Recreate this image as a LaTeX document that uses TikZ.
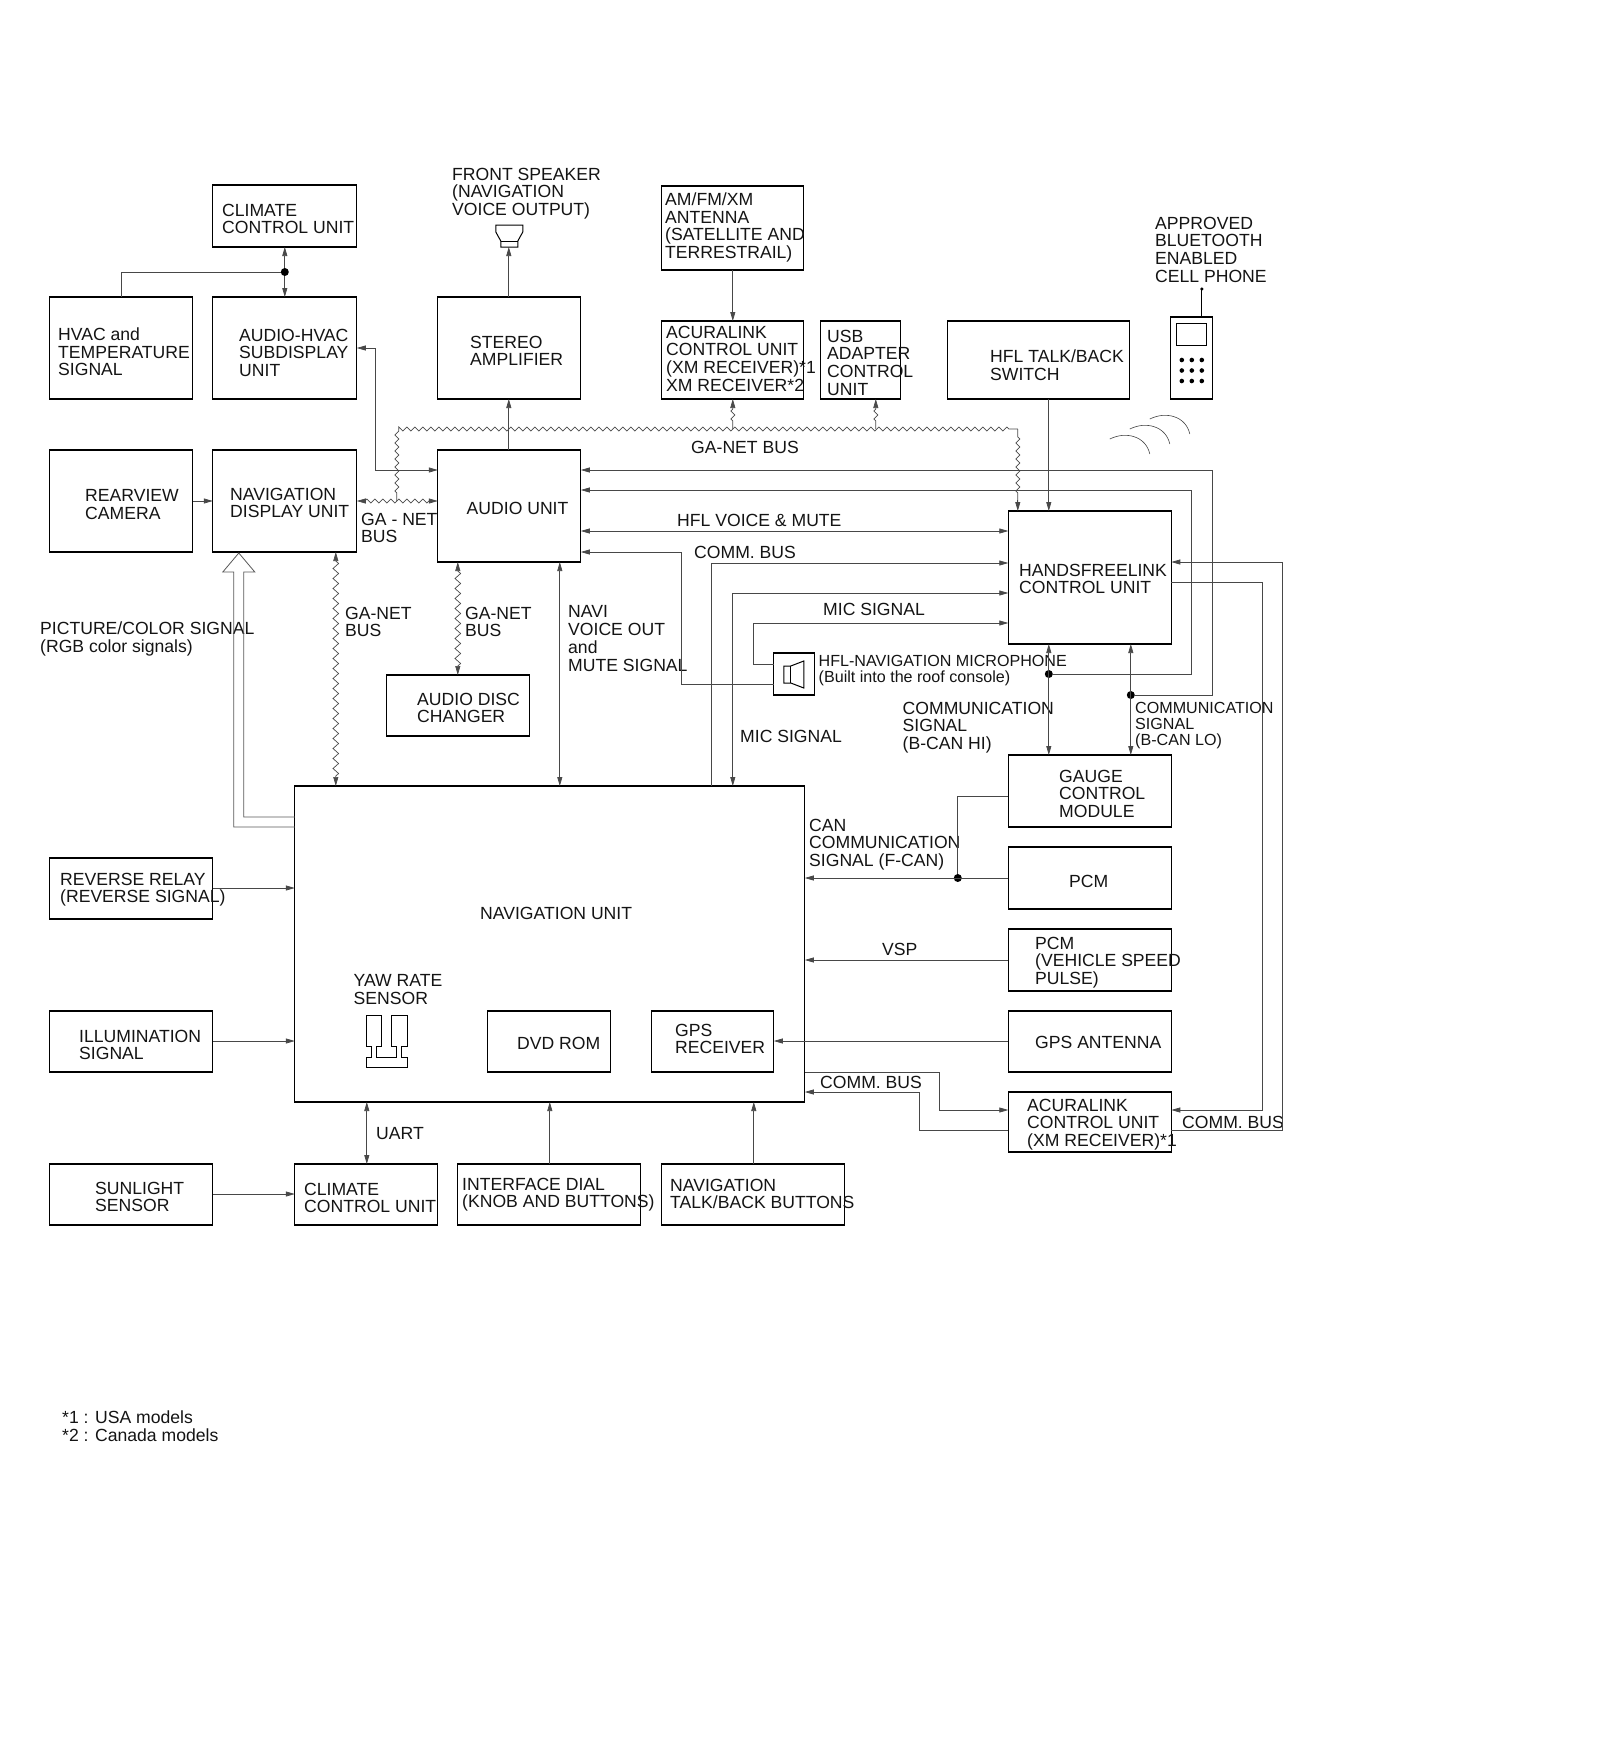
\documentclass[tikz,border=0pt]{standalone}
\usepackage{fontspec}
\setmainfont{Liberation Sans}
\usetikzlibrary{arrows.meta,decorations.pathmorphing,calc}
\definecolor{wire}{HTML}{484848}
\definecolor{buswire}{HTML}{4A4A4A}
\newcommand{\mybox}[5]{\node[boxnode,minimum width={(#4-#2)*1pt},minimum height={(#5-#3)*1pt}] (#1) at ({(#2+#4)/2},{(#3+#5)/2}) {};}
\tikzset{
  boxnode/.style={draw=black,line width=1.15pt,inner sep=0pt,outer sep=0pt,fill=none},
  lbl/.style={inner sep=0pt,outer sep=0pt,anchor=north west,yshift=14pt,xshift=0.4pt,align=left,text=black!92,
    font=\fontsize{17.6}{17.7}\selectfont,execute at begin node={\rule{0pt}{14pt}}},
  mlbl/.style={lbl,yshift=-1.8pt},
  smalllbl/.style={lbl,yshift=-3.3pt,font=\fontsize{16.1}{16.2}\selectfont},
  wired/.style={draw=wire,line width=0.75pt},
  tipend/.tip={Triangle[length=9pt,width=5pt]},
  tipped/.style={wired,-tipend},
  tippedboth/.style={wired,tipend-tipend},
  zz/.style={draw=buswire,line width=0.7pt,decorate,decoration={zigzag,segment length=8pt,amplitude=2pt,pre length=8pt,post length=8pt}},
  zzv/.style={draw=buswire,line width=0.7pt,decorate,decoration={zigzag,segment length=10pt,amplitude=2.8pt,pre length=9pt,post length=9pt}},
  jdot/.style={circle,fill=black,inner sep=0pt,minimum size=8pt},
  keydot/.style={circle,fill=black,inner sep=0pt,minimum size=4.6pt},
  icon/.style={draw=black,line width=1pt},
  hollow/.style={draw=black!65,line width=0.8pt}
}
\begin{document}
\begin{tikzpicture}[x=1pt,y=-1pt]
\useasboundingbox[fill=white] (0,0) rectangle (1600,1748);
\begin{scope}[xshift=-0.2pt]
% boxes
\mybox{climtop}{213}{185}{357}{247}
\mybox{hvacsub}{213}{297}{357}{399}
\mybox{hvacsig}{50}{297}{193}{399}
\mybox{stereo}{438}{297}{581}{399}
\mybox{amfm}{662}{186}{804}{270}
\mybox{acuratop}{662}{321}{804}{399}
\mybox{usb}{821}{321}{901}{399}
\mybox{talkback}{948}{321}{1130}{399}
\mybox{phone}{1171}{317}{1213}{399}
\mybox{rearcam}{50}{450}{193}{552}
\mybox{navdisp}{213}{450}{357}{552}
\mybox{audio}{438}{450}{581}{562}
\mybox{hfcu}{1008.5}{511}{1171.5}{644}
\mybox{micbox}{774}{653}{815}{695}
\mybox{disc}{387}{675}{530}{736}
\mybox{navunit}{295}{786}{805}{1102}
\mybox{gauge}{1008.5}{755}{1171.5}{827}
\mybox{pcma}{1008.5}{847}{1171.5}{909}
\mybox{pcmb}{1008.5}{929}{1171.5}{991}
\mybox{gpsant}{1008.5}{1011}{1171.5}{1072}
\mybox{acurabot}{1008.5}{1092}{1171.5}{1152}
\mybox{relay}{50}{858}{213}{919}
\mybox{illum}{50}{1011}{213}{1072}
\mybox{sun}{50}{1164}{213}{1225}
\mybox{climbot}{295}{1164}{438}{1225}
\mybox{dial}{458}{1164}{641}{1225}
\mybox{talkbtn}{662}{1164}{845}{1225}
\mybox{dvd}{488}{1011}{611}{1072}
\mybox{gpsrx}{652}{1011}{774}{1072}
% labels
\node[mlbl] (t1) at (222,216) {CLIMATE\\CONTROL UNIT};
\node[mlbl] (t2) at (239,341) {AUDIO-HVAC\\SUBDISPLAY\\UNIT};
\node[mlbl] (t3) at (58,340) {HVAC and\\TEMPERATURE\\SIGNAL};
\node[mlbl] (t4) at (452,180) {FRONT SPEAKER\\(NAVIGATION\\VOICE OUTPUT)};
\node[mlbl] (t5) at (470,348) {STEREO\\AMPLIFIER};
\node[mlbl] (t6) at (665,205) {AM/FM/XM\\ANTENNA\\(SATELLITE AND\\TERRESTRAIL)};
\node[mlbl] (t7) at (666,338) {ACURALINK\\CONTROL UNIT\\(XM RECEIVER)*1\\XM RECEIVER*2};
\node[mlbl] (t8) at (827,342) {USB\\ADAPTER\\CONTROL\\UNIT};
\node[mlbl] (t9) at (990,362) {HFL TALK/BACK\\SWITCH};
\node[mlbl] (t10) at (1155,229) {APPROVED\\BLUETOOTH\\ENABLED\\CELL PHONE};
\node[mlbl] (t11) at (85,502) {REARVIEW\\CAMERA};
\node[mlbl] (t12) at (230,500) {NAVIGATION\\DISPLAY UNIT};
\node[lbl] (t13) at (466.5,514) {AUDIO UNIT};
\node[mlbl] (t14) at (361,525) {GA - NET\\BUS};
\node[lbl] (t15) at (691,453) {GA-NET BUS};
\node[lbl] (t16) at (677,526) {HFL VOICE \& MUTE};
\node[lbl] (t17) at (694,558) {COMM. BUS};
\node[lbl] (t18) at (823,615) {MIC SIGNAL};
\node[mlbl] (t19) at (1019,576) {HANDSFREELINK\\CONTROL UNIT};
\node[mlbl] (t20) at (40,634) {PICTURE/COLOR SIGNAL\\(RGB color signals)};
\node[mlbl] (t21) at (345,619) {GA-NET\\BUS};
\node[mlbl] (t22) at (465,619) {GA-NET\\BUS};
\node[mlbl] (t23) at (568,618) {NAVI\\VOICE OUT\\and\\MUTE SIGNAL};
\node[mlbl] (t24) at (417,705) {AUDIO DISC\\CHANGER};
\node[smalllbl] (t25) at (818.5,666) {HFL-NAVIGATION MICROPHONE\\(Built into the roof console)};
\node[mlbl] (t26) at (902.5,714) {COMMUNICATION\\SIGNAL\\(B-CAN HI)};
\node[smalllbl] (t27) at (1135,713) {COMMUNICATION\\SIGNAL\\(B-CAN LO)};
\node[lbl] (t28) at (740,742) {MIC SIGNAL};
\node[mlbl] (t29) at (1059,782) {GAUGE\\CONTROL\\MODULE};
\node[mlbl] (t30) at (809,831) {CAN\\COMMUNICATION\\SIGNAL (F-CAN)};
\node[lbl] (t31) at (1069,887) {PCM};
\node[mlbl] (t32) at (1035,949) {PCM\\(VEHICLE SPEED\\PULSE)};
\node[lbl] (t33) at (882,955) {VSP};
\node[lbl] (t34) at (1035,1048) {GPS ANTENNA};
\node[lbl] (t35) at (480,919) {NAVIGATION UNIT};
\node[mlbl] (t36) at (353.5,987) {YAW RATE\\SENSOR};
\node[lbl] (t37) at (517,1049) {DVD ROM};
\node[mlbl] (t38) at (675,1036) {GPS\\RECEIVER};
\node[mlbl] (t39) at (60,885) {REVERSE RELAY\\(REVERSE SIGNAL)};
\node[mlbl] (t40) at (79,1042) {ILLUMINATION\\SIGNAL};
\node[mlbl] (t41) at (95,1194) {SUNLIGHT\\SENSOR};
\node[mlbl] (t42) at (304,1195) {CLIMATE\\CONTROL UNIT};
\node[lbl] (t43) at (376,1139) {UART};
\node[mlbl] (t44) at (462,1190) {INTERFACE DIAL\\(KNOB AND BUTTONS)};
\node[mlbl] (t45) at (670,1191) {NAVIGATION\\TALK/BACK BUTTONS};
\node[lbl] (t46) at (820,1088) {COMM. BUS};
\node[mlbl] (t47) at (1027,1111) {ACURALINK\\CONTROL UNIT\\(XM RECEIVER)*1};
\node[lbl] (t48) at (1182,1128) {COMM. BUS};
\node[mlbl] (t49) at (62,1423) {*1 : USA models\\*2 : Canada models};
% junctions
\node[jdot] (jclim) at (285,272) {};
\node[jdot] (jhi) at (1049,674) {};
\node[jdot] (jlo) at (1131,695) {};
\node[jdot] (jcan) at (958,878) {};
% connectors: top left
\draw[tipped] (jclim) -- (climtop.south -| jclim);
\draw[tipped] (jclim) -- (hvacsub.north -| jclim);
\draw[wired] (jclim) -- (122,272) -- (hvacsig.north -| 122,0);
\draw[tippedboth] (hvacsub.east |- 0,348) -- (376,348) -- (376,470) -- (audio.west |- 0,470);
\draw[tipped] (rearcam.east |- 0,501) -- (navdisp.west |- 0,501);
% stereo and speaker
\draw[tipped] (stereo.north -| 509,0) -- (509,247);
\draw[tipped] (audio.north -| 509,0) -- (stereo.south -| 509,0);
\draw[icon] (496,225) -- (523,225) -- (523,232) -- (518,241) -- (518,247) -- (501,247) -- (501,241) -- (496,232) -- cycle;
\draw[icon,line width=0.7pt] (501,241) -- (518,241);
\draw[tipped] (amfm.south -| 733,0) -- (acuratop.north -| 733,0);
% GA-NET bus
\draw[zz] (397,501) -- (397,429) -- (1018,429);
\draw[zz] (1018,429) -- (1018,503);
\draw[tipped] (1018,500) -- (hfcu.north -| 1018,0);
\draw[zz,tipend-tipend] (navdisp.east |- 0,501) -- (audio.west |- 0,501);
\draw[zz,-tipend] (733,429) -- (acuratop.south -| 733,0);
\draw[zz,-tipend] (876,429) -- (usb.south -| 876,0);
\draw[zzv,tipend-tipend] (navdisp.south -| 336,0) -- (navunit.north -| 336,0);
\draw[zzv,tipend-tipend] (audio.south -| 458,0) -- (disc.north -| 458,0);
% audio to others
\draw[tippedboth] (audio.south -| 560,0) -- (navunit.north -| 560,0);
\draw[tipped] (jlo) -| (1213,470) -- (audio.east |- 0,470);
\draw[tipped] (jhi) -| (1192,490) -- (audio.east |- 0,490);
\draw[tippedboth] (audio.east |- 0,531) -- (hfcu.west |- 0,531);
\draw[tipped] (micbox.west |- 0,684) -- (682,684) -- (682,552) -- (audio.east |- 0,552);
\draw[tipped] (micbox.west |- 0,664) -- (754,664) -- (754,623) -- (hfcu.west |- 0,623);
\draw[tipped] (navunit.north -| 712,0) -- (712,563) -- (hfcu.west |- 0,563);
\draw[tippedboth] (navunit.north -| 733,0) -- (733,593) -- (hfcu.west |- 0,593);
\draw[tipped] (talkback.south -| 1049,0) -- (hfcu.north -| 1049,0);
\draw[tippedboth] (hfcu.south -| jhi) -- (gauge.north -| jhi);
\draw[tippedboth] (hfcu.south -| jlo) -- (gauge.north -| jlo);
% right loop
\draw[tipped] (acurabot.east |- 0,1130) -- (1283,1130) -- (1283,562) -- (hfcu.east |- 0,562);
\draw[tipped] (hfcu.east |- 0,582) -- (1263,582) -- (1263,1110) -- (acurabot.east |- 0,1110);
\draw[tipped] (navunit.east |- 0,1072) -- (940,1072) -- (940,1110) -- (acurabot.west |- 0,1110);
\draw[tipped] (acurabot.west |- 0,1130) -- (920,1130) -- (920,1092) -- (navunit.east |- 0,1092);
% navigation inputs
\draw[wired] (gauge.west |- 0,796) -- (958,796) -- (jcan);
\draw[tipped] (pcma.west |- 0,878) -- (navunit.east |- 0,878);
\draw[tipped] (pcmb.west |- 0,960) -- (navunit.east |- 0,960);
\draw[tipped] (gpsant.west |- 0,1041) -- (gpsrx.east |- 0,1041);
\draw[tipped] (relay.east |- 0,888) -- (navunit.west |- 0,888);
\draw[tipped] (illum.east |- 0,1041) -- (navunit.west |- 0,1041);
\draw[tipped] (sun.east |- 0,1194) -- (climbot.west |- 0,1194);
\draw[tippedboth] (climbot.north -| 367,0) -- (navunit.south -| 367,0);
\draw[tipped] (dial.north -| 550,0) -- (navunit.south -| 550,0);
\draw[tipped] (talkbtn.north -| 754,0) -- (navunit.south -| 754,0);
% hollow picture arrow
\draw[hollow] (navunit.west |- 0,827) -- (234,827) -- (234,572) -- (223,572) -- (239,553) -- (255,572) -- (244,572) -- (244,817) -- (navunit.west |- 0,817);
% phone
\draw[icon,line width=0.7pt] (1177,323) rectangle (1207,345);
\draw[icon] (1202,317) -- (1202,289);
\node[keydot,minimum size=3.5pt] (ant) at (1202,289) {};
\foreach \kx/\kn in {1182/a,1192/b,1202/c}{\foreach \ky/\km in {360/a,370.5/b,381/c}{\node[keydot] (key\kn\km) at (\kx,\ky) {};}}
% radio waves
\draw[wired,line width=0.6pt] (1110,439) .. controls (1126,431) and (1146,436) .. (1150,454);
\draw[wired,line width=0.6pt] (1130,429) .. controls (1146,421) and (1166,426) .. (1170,444);
\draw[wired,line width=0.6pt] (1150,419) .. controls (1166,411) and (1186,416) .. (1190,434);
% microphone icon
\draw[icon] (784,666) -- (791,666) -- (804,661) -- (804,688) -- (791,683) -- (784,683) -- cycle;
\draw[icon] (791,666) -- (791,683);
% yaw rate sensor
\draw[icon] (367,1015) -- (382,1015) -- (382,1046) -- (377,1046) -- (377,1057) -- (397,1057) -- (397,1046) -- (392,1046) -- (392,1015) -- (408,1015) -- (408,1046) -- (402,1046) -- (402,1057) -- (408,1057) -- (408,1067) -- (367,1067) -- (367,1057) -- (372,1057) -- (372,1046) -- (367,1046) -- cycle;
\end{scope}
\end{tikzpicture}
\end{document}
